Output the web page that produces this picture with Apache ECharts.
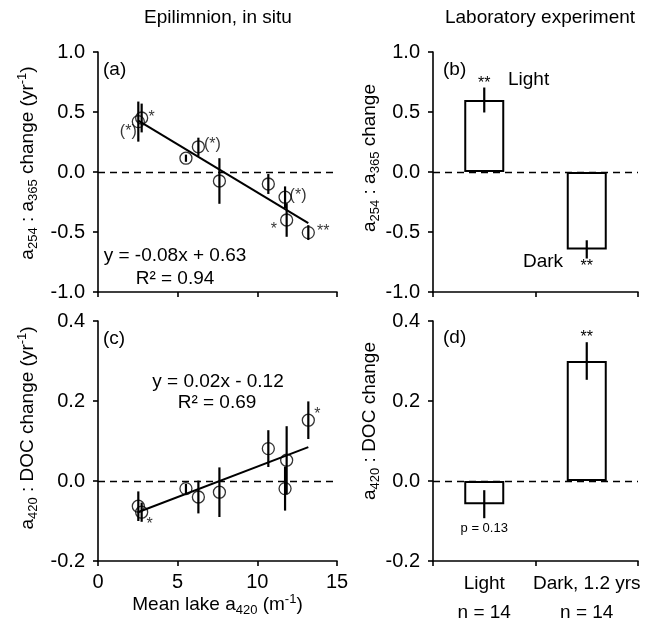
<!DOCTYPE html>
<html><head><meta charset="utf-8">
<script src="https://cdn.jsdelivr.net/npm/echarts@6/dist/echarts.min.js"></script>
<style>html,body{margin:0;padding:0;background:#fff}#c{width:653px;height:620px}</style>
</head><body><div id="c"></div>
<script>
// ---------------- data ----------------
const lakeA420 = [2.53, 2.74, 5.52, 6.30, 7.62, 10.69, 11.74, 11.84, 13.20];
// panel (a): a254:a365 change (yr-1)
const ratioChange = [0.42, 0.45, 0.115, 0.21, -0.075, -0.10, -0.21, -0.40, -0.505];
const ratioErr    = [0.167, 0.12, 0.03, 0.076, 0.19, 0.083, 0.09, 0.14, 0.062];
const ratioSig    = ['(*)', '*', '', '(*)', '', '', '(*)', '*', '**'];
const ratioFit    = [-0.08, 0.63];           // slope, intercept
// panel (c): a420:DOC change (yr-1)
const docChange = [-0.063, -0.078, -0.019, -0.04, -0.028, 0.081, -0.019, 0.052, 0.152];
const docErr    = [0.037, 0.024, 0.012, 0.041, 0.062, 0.046, 0.055, 0.085, 0.047];
const docSig    = ['', '*', '', '', '', '', '', '', '*'];
const docFit    = [0.0152, -0.116];         // slope, intercept (drawn line)
const fitRange  = [2.5, 13.2];
// lab experiment
const labCats     = ['Light', 'Dark, 1.2 yrs'];
const labN        = ['n = 14', 'n = 14'];
const labRatio    = [0.60, -0.645];
const labRatioErr = [0.104, 0.076];
const labRatioSig = ['**', '**'];
const labDoc      = [-0.058, 0.30];
const labDocErr   = [0.035, 0.047];
const labDocSig   = ['p = 0.13', '**'];
// axis ticks
const xTicks = {min: 0, max: 15, interval: 5};
const yTicksRatio = {min: -1, max: 1, interval: 0.5};
const yTicksDoc = {min: -0.2, max: 0.4, interval: 0.2};

// ---------------- styles ----------------
const FONT = "Arial, 'Liberation Sans', sans-serif";
const FS = 19;
const TFS = 20;
const BLACK = '#000';
const sigOffRatio = [[-10, 10], [10, 0], null, [14, -2], null, null, [13, -2], [-12.7, 10], [15, -1]];
const sigOffDoc = [null, [8, 12], null, null, null, null, null, null, [9, -6]];
// for bars: offset from error-bar end (top if above, bottom if below)
const labRatioSigPos = [['top', -3.5], ['bottom', 7.7]];
const labDocSigPos = [['bottom', 10], ['top', -4.7]];

const rich = {
  n: {fontSize: FS, fontFamily: FONT, color: BLACK},
  s: {fontSize: 13, fontFamily: FONT, color: BLACK, padding: [11, 0, 0, 0]},
  p: {fontSize: 13, fontFamily: FONT, color: BLACK, padding: [0, 0, 11, 0]}
};

function axisLineStyle() { return {show: true, onZero: false, lineStyle: {color: BLACK, width: 1.6}}; }
function axisTickStyle() { return {show: true, length: 5, lineStyle: {color: BLACK, width: 1.6}}; }

function valueX(grid, showLabels, name) {
  return {
    type: 'value', gridIndex: grid, min: xTicks.min, max: xTicks.max, interval: xTicks.interval,
    axisLine: axisLineStyle(), axisTick: axisTickStyle(), splitLine: {show: false},
    axisLabel: {show: showLabels, color: BLACK, fontSize: TFS, fontFamily: FONT, margin: 11},
    name: name || '', nameLocation: 'middle', nameGap: 31,
    nameTextStyle: {rich: rich}
  };
}
function catX(grid, showLabels) {
  return {
    type: 'category', gridIndex: grid, data: labCats,
    axisLine: axisLineStyle(), axisTick: axisTickStyle(), splitLine: {show: false},
    axisLabel: {show: showLabels, color: BLACK, fontSize: FS, fontFamily: FONT, margin: 8,
      lineHeight: 29, interval: 0,
      formatter: (v, i) => v + '\n' + labN[i]}
  };
}
function valueY(grid, ticks, name, gap, shift) {
  return {
    type: 'value', gridIndex: grid, min: ticks.min, max: ticks.max, interval: ticks.interval,
    axisLine: axisLineStyle(), axisTick: axisTickStyle(), splitLine: {show: false},
    axisLabel: {color: BLACK, fontSize: TFS, fontFamily: FONT, margin: 13,
      formatter: v => (Math.abs(v) < 1e-9 ? 0 : v).toFixed(1)},
    name: name, nameLocation: 'middle', nameRotate: 90, nameGap: gap,
    nameTextStyle: {rich: rich, padding: [0, 0, 0, shift]}
  };
}

function zeroLine() {
  return {silent: true, symbol: 'none', label: {show: false},
    lineStyle: {color: BLACK, width: 1.3, type: [7, 5]}, data: [{yAxis: 0}]};
}

function errRender(params, api) {
  const x = api.value(0), y = api.value(1), e = api.value(2);
  const p1 = api.coord([x, y + e]), p2 = api.coord([x, y - e]);
  return {type: 'line', shape: {x1: p1[0], y1: p1[1], x2: p2[0], y2: p2[1]},
    style: {stroke: BLACK, lineWidth: 2.2}};
}

function scatterData(xs, ys, sig, offs) {
  return xs.map((x, i) => {
    const item = {value: [x, ys[i]]};
    if (sig[i]) {
      item.label = {show: true, position: 'inside', formatter: sig[i], offset: offs[i],
        fontSize: 16, fontFamily: FONT, color: BLACK, align: 'center', verticalAlign: 'middle'};
    }
    return item;
  });
}

function fitData(f) {
  return fitRange.map(x => [x, f[0] * x + f[1]]);
}

function barSigRender(values, errs, sig, pos) {
  return function (params, api) {
    const i = params.dataIndex;
    const v = values[i], e = errs[i];
    const above = pos[i][0] === 'top';
    const end = api.coord([i, above ? v + e : v - e]);
    return {type: 'text', x: end[0], y: end[1] + pos[i][1],
      style: {text: sig[i], fill: BLACK, font: (sig[i].length > 3 ? 13 : 16) + 'px ' + FONT,
        align: 'center', verticalAlign: 'middle', textAlign: 'center', textVerticalAlign: 'middle'}};
  };
}

function txt(t, x, y, size, align) {
  return {type: 'text', x: x, y: y, silent: true,
    style: {text: t, fill: BLACK, font: size + 'px ' + FONT,
      align: align || 'center', verticalAlign: 'middle',
      textAlign: align || 'center', textVerticalAlign: 'middle'}};
}

function gridBox(left, top, width, height) {
  return {left: left, top: top, width: width, height: height,
    containLabel: false, outerBoundsMode: 'none'};
}

const chart = echarts.init(document.getElementById('c'), null, {renderer: 'canvas'});
const option = {
  animation: false,
  backgroundColor: '#fff',
  grid: [
    gridBox(98, 52, 239, 240),
    gridBox(433, 52, 205, 240),
    gridBox(98, 321, 239, 240),
    gridBox(433, 321, 205, 240)
  ],
  xAxis: [
    valueX(0, false),
    catX(1, false),
    valueX(2, true, '{n|Mean lake a}{s|420}{n| (m}{p|-1}{n|)}'),
    catX(3, true)
  ],
  yAxis: [
    valueY(0, yTicksRatio, '{n|a}{s|254}{n| : a}{s|365}{n| change (yr}{p|-1}{n|)}', 58, 18),
    valueY(1, yTicksRatio, '{n|a}{s|254}{n| : a}{s|365}{n| change}', 43, 28),
    valueY(2, yTicksDoc, '{n|a}{s|420}{n| : DOC change (yr}{p|-1}{n|)}', 58, 26),
    valueY(3, yTicksDoc, '{n|a}{s|420}{n| : DOC change}', 43, 40)
  ],
  series: [
    // panel a
    {type: 'line', xAxisIndex: 0, yAxisIndex: 0, data: fitData(ratioFit), symbol: 'none',
      lineStyle: {color: BLACK, width: 2}, markLine: zeroLine(), z: 2},
    {type: 'custom', xAxisIndex: 0, yAxisIndex: 0, renderItem: errRender,
      data: lakeA420.map((x, i) => [x, ratioChange[i], ratioErr[i]]), z: 3},
    {type: 'scatter', xAxisIndex: 0, yAxisIndex: 0, symbol: 'circle', symbolSize: 12,
      itemStyle: {color: 'rgba(0,0,0,0)', borderColor: BLACK, borderWidth: 1.3},
      data: scatterData(lakeA420, ratioChange, ratioSig, sigOffRatio), z: 4},
    // panel c
    {type: 'line', xAxisIndex: 2, yAxisIndex: 2, data: fitData(docFit), symbol: 'none',
      lineStyle: {color: BLACK, width: 2}, markLine: zeroLine(), z: 2},
    {type: 'custom', xAxisIndex: 2, yAxisIndex: 2, renderItem: errRender,
      data: lakeA420.map((x, i) => [x, docChange[i], docErr[i]]), z: 3},
    {type: 'scatter', xAxisIndex: 2, yAxisIndex: 2, symbol: 'circle', symbolSize: 12,
      itemStyle: {color: 'rgba(0,0,0,0)', borderColor: BLACK, borderWidth: 1.3},
      data: scatterData(lakeA420, docChange, docSig, sigOffDoc), z: 4},
    // panel b
    {type: 'bar', xAxisIndex: 1, yAxisIndex: 1, data: labRatio, barWidth: 40,
      itemStyle: {color: '#fff', borderColor: BLACK, borderWidth: 2}, markLine: zeroLine(), z: 2},
    {type: 'custom', xAxisIndex: 1, yAxisIndex: 1, renderItem: errRender,
      data: labRatio.map((v, i) => [i, v, labRatioErr[i]]), z: 3},
    {type: 'custom', xAxisIndex: 1, yAxisIndex: 1,
      renderItem: barSigRender(labRatio, labRatioErr, labRatioSig, labRatioSigPos),
      data: labRatio.map((v, i) => [i, v]), z: 4},
    // panel d
    {type: 'bar', xAxisIndex: 3, yAxisIndex: 3, data: labDoc, barWidth: 40,
      itemStyle: {color: '#fff', borderColor: BLACK, borderWidth: 2}, markLine: zeroLine(), z: 2},
    {type: 'custom', xAxisIndex: 3, yAxisIndex: 3, renderItem: errRender,
      data: labDoc.map((v, i) => [i, v, labDocErr[i]]), z: 3},
    {type: 'custom', xAxisIndex: 3, yAxisIndex: 3,
      renderItem: barSigRender(labDoc, labDocErr, labDocSig, labDocSigPos),
      data: labDoc.map((v, i) => [i, v]), z: 4}
  ],
  graphic: [
    txt('Epilimnion, in situ', 218, 18, FS),
    txt('Laboratory experiment', 540, 18, FS),
    txt('(a)', 103, 70, FS, 'left'),
    txt('(b)', 443, 70, FS, 'left'),
    txt('(c)', 103, 339, FS, 'left'),
    txt('(d)', 443, 338, FS, 'left'),
    txt('Light', 508, 80, FS, 'left'),
    txt('Dark', 523, 262, FS, 'left'),
    txt('y = -0.08x + 0.63', 175, 256, FS),
    txt('R² = 0.94', 175, 279, FS),
    txt('y = 0.02x - 0.12', 218, 382, FS),
    txt('R² = 0.69', 217, 403, FS)
  ]
};
chart.setOption(option);
</script>
</body></html>
